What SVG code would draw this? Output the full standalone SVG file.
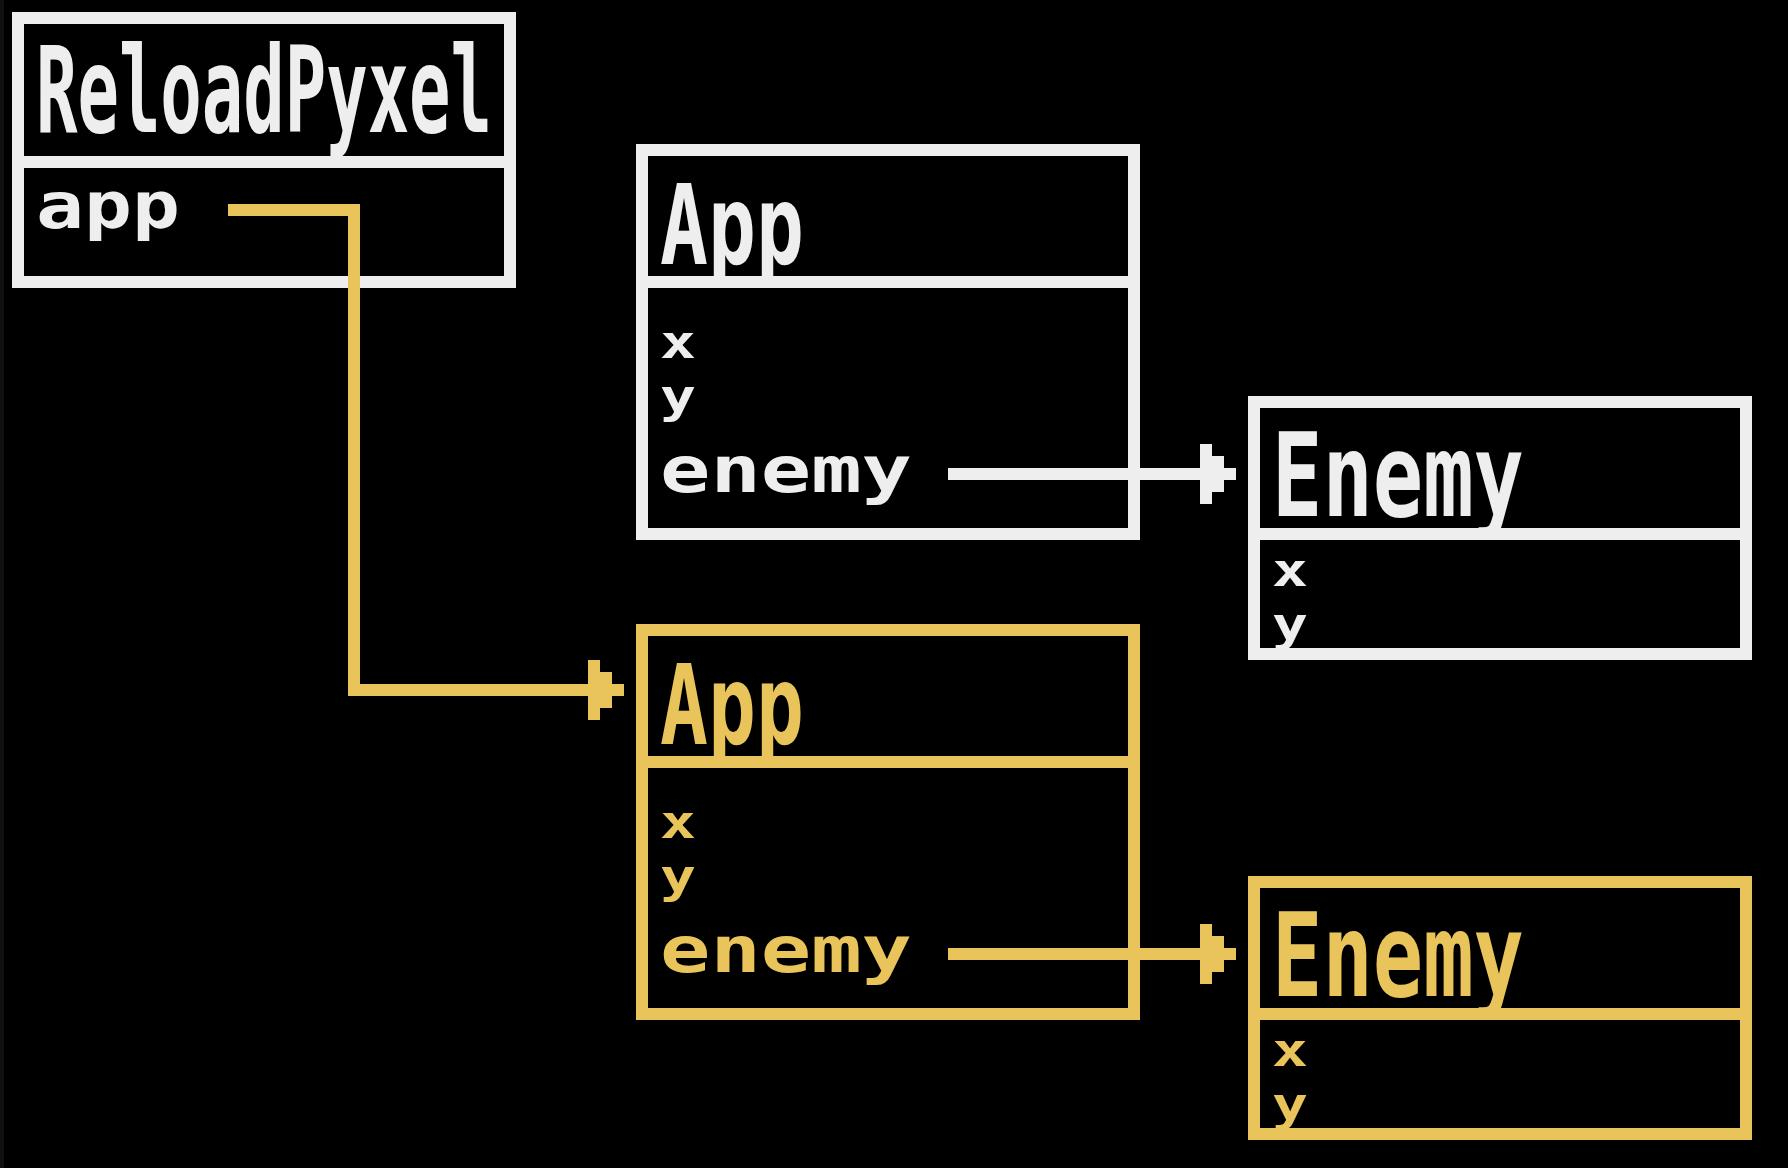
<svg xmlns="http://www.w3.org/2000/svg" width="1788" height="1168" viewBox="0 0 1788 1168">
  <style>
    .w { stroke: #eeeeee; }
    .g { stroke: #e9c45a; }
    .box { fill: none; stroke-width: 12; }
    .div { stroke-width: 12; }
    .tw { fill: #eeeeee; }
    .tg { fill: #e9c45a; }
    text { font-family: "DejaVu Sans Mono", "Liberation Mono", monospace; font-weight: bold; }
    .title { font-size: 120px; }
    .atitle { font-size: 110px; }
    .etitle { font-size: 116px; }
    .mem { font-size: 64px; }
    .sm { font-size: 46px; }
    .conn { fill: none; stroke-width: 12; stroke-linejoin: miter; stroke-linecap: butt; }
  </style>
  <defs>
    <marker id="arrW" markerUnits="userSpaceOnUse" viewBox="0 0 36 60" markerWidth="36" markerHeight="60" refX="0" refY="30" orient="auto">
      <polygon points="0,0 12,0 12,12 24,12 24,24 36,24 36,36 24,36 24,48 12,48 12,60 0,60" fill="#eeeeee"/>
    </marker>
    <marker id="arrG" markerUnits="userSpaceOnUse" viewBox="0 0 36 60" markerWidth="36" markerHeight="60" refX="0" refY="30" orient="auto">
      <polygon points="0,0 12,0 12,12 24,12 24,24 36,24 36,36 24,36 24,48 12,48 12,60 0,60" fill="#e9c45a"/>
    </marker>
  </defs>
  <rect x="0" y="0" width="1788" height="1168" fill="#000000"/>
  <rect x="0" y="0" width="4" height="1168" fill="#101010"/>

  <g id="node-reloadpyxel">
    <rect class="box w" x="18" y="18" width="492" height="264"/>
    <line class="div w" x1="12" y1="162" x2="516" y2="162"/>
    <text class="title tw" x="36" y="132" textLength="456" lengthAdjust="spacingAndGlyphs">ReloadPyxel</text>
    <text class="mem tw" x="36" y="228" textLength="144" lengthAdjust="spacingAndGlyphs">app</text>
  </g>

  <g id="node-app-1">
    <rect class="box w" x="642" y="150" width="492" height="384"/>
    <line class="div w" x1="636" y1="282" x2="1140" y2="282"/>
    <text class="atitle tw" x="660" y="264" textLength="144" lengthAdjust="spacingAndGlyphs">App</text>
    <text class="sm tw" x="660" y="358" textLength="36" lengthAdjust="spacingAndGlyphs">x</text>
    <text class="sm tw" x="660" y="412" textLength="36" lengthAdjust="spacingAndGlyphs">y</text>
    <text class="mem tw" x="660" y="492" textLength="252" lengthAdjust="spacingAndGlyphs">enemy</text>
  </g>

  <g id="node-enemy-1">
    <rect class="box w" x="1254" y="402" width="492" height="252"/>
    <line class="div w" x1="1248" y1="534" x2="1752" y2="534"/>
    <text class="etitle tw" x="1272" y="516" textLength="252" lengthAdjust="spacingAndGlyphs">Enemy</text>
    <text class="sm tw" x="1272" y="586" textLength="36" lengthAdjust="spacingAndGlyphs">x</text>
    <text class="sm tw" x="1272" y="640" textLength="36" lengthAdjust="spacingAndGlyphs">y</text>
  </g>

  <g id="node-app-2">
    <rect class="box g" x="642" y="630" width="492" height="384"/>
    <line class="div g" x1="636" y1="762" x2="1140" y2="762"/>
    <text class="atitle tg" x="660" y="744" textLength="144" lengthAdjust="spacingAndGlyphs">App</text>
    <text class="sm tg" x="660" y="838" textLength="36" lengthAdjust="spacingAndGlyphs">x</text>
    <text class="sm tg" x="660" y="892" textLength="36" lengthAdjust="spacingAndGlyphs">y</text>
    <text class="mem tg" x="660" y="972" textLength="252" lengthAdjust="spacingAndGlyphs">enemy</text>
  </g>

  <g id="node-enemy-2">
    <rect class="box g" x="1254" y="882" width="492" height="252"/>
    <line class="div g" x1="1248" y1="1014" x2="1752" y2="1014"/>
    <text class="etitle tg" x="1272" y="996" textLength="252" lengthAdjust="spacingAndGlyphs">Enemy</text>
    <text class="sm tg" x="1272" y="1066" textLength="36" lengthAdjust="spacingAndGlyphs">x</text>
    <text class="sm tg" x="1272" y="1120" textLength="36" lengthAdjust="spacingAndGlyphs">y</text>
  </g>

  <g id="connectors">
    <path class="conn g" d="M228,210 H354 V690 H588" marker-end="url(#arrG)"/>
    <path class="conn w" d="M948,474 H1200" marker-end="url(#arrW)"/>
    <path class="conn g" d="M948,954 H1200" marker-end="url(#arrG)"/>
  </g>
</svg>
